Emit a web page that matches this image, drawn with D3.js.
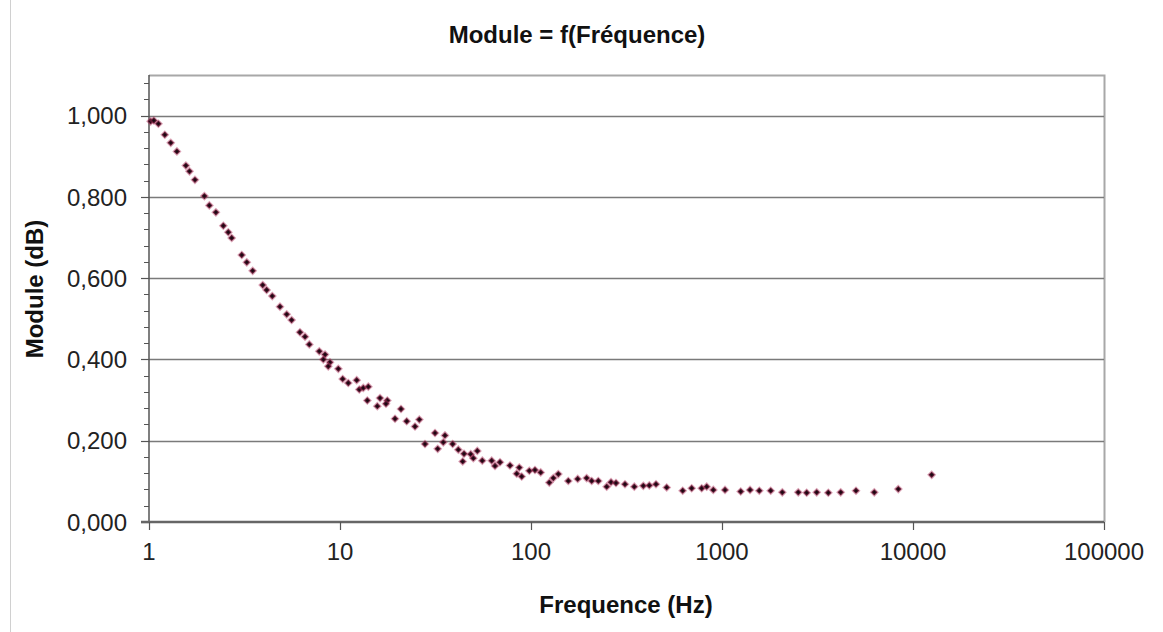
<!DOCTYPE html>
<html>
<head>
<meta charset="utf-8">
<script src="https://cdn.jsdelivr.net/npm/d3@7"></script>
<style>
  html, body { margin: 0; padding: 0; background: #fff; }
  svg { display: block; }
  text { font-family: "Liberation Sans", Arial, sans-serif; }
</style>
</head>
<body>
<svg id="chart" width="1163" height="632"></svg>
<script>
const title = "Module = f(Fréquence)";
const xLabel = "Frequence (Hz)";
const yLabel = "Module (dB)";

const frequence = [1.02, 1.06, 1.12, 1.21, 1.30, 1.40, 1.56, 1.63, 1.74, 1.95,
  2.07, 2.24, 2.45, 2.60, 2.71, 3.06, 3.25, 3.49, 3.94, 4.13,
  4.42, 4.85, 5.26, 5.58, 6.17, 6.56, 6.91, 7.79, 8.35, 8.18,
  8.86, 8.68, 9.80, 10.33, 11.05, 12.23, 12.62, 13.24, 14.07, 13.90,
  16.20, 15.68, 17.69, 17.41, 20.86, 19.41, 22.35, 26.02, 24.70, 31.44,
  27.86, 35.45, 34.74, 32.48, 38.90, 41.64, 44.60, 48.34, 49.89, 43.90,
  52.35, 55.59, 62.26, 64.80, 68.82, 77.63, 86.84, 84.17, 89.40, 98.0,
  104.9, 112.4, 124.7, 130.9, 139.0, 156.8, 175.6, 195.6, 207.9, 225.1,
  249.1, 262.4, 278.6, 310.5, 347.4, 387.3, 416.4, 451.3, 513.4, 622.6,
  694.0, 782.9, 831.8, 900.6, 1037, 1253, 1402, 1568, 1799, 2069,
  2508, 2776, 3132, 3602, 4183, 5030, 6272, 8375, 12527];
const module = [0.986, 0.988, 0.980, 0.953, 0.933, 0.912, 0.877, 0.863, 0.842, 0.802,
  0.779, 0.762, 0.729, 0.713, 0.699, 0.657, 0.639, 0.618, 0.583, 0.571,
  0.556, 0.530, 0.511, 0.497, 0.467, 0.456, 0.437, 0.420, 0.412, 0.400,
  0.393, 0.383, 0.377, 0.352, 0.342, 0.349, 0.326, 0.330, 0.333, 0.299,
  0.305, 0.285, 0.299, 0.291, 0.278, 0.254, 0.248, 0.252, 0.235, 0.219,
  0.192, 0.213, 0.196, 0.180, 0.192, 0.178, 0.168, 0.167, 0.157, 0.149,
  0.175, 0.151, 0.151, 0.138, 0.147, 0.139, 0.134, 0.119, 0.112, 0.126,
  0.128, 0.122, 0.097, 0.108, 0.118, 0.101, 0.106, 0.108, 0.101, 0.101,
  0.087, 0.098, 0.096, 0.093, 0.087, 0.089, 0.090, 0.093, 0.085, 0.077,
  0.083, 0.083, 0.087, 0.079, 0.079, 0.075, 0.079, 0.077, 0.077, 0.073,
  0.073, 0.072, 0.073, 0.072, 0.073, 0.077, 0.073, 0.081, 0.116];

const xTicks = [1, 10, 100, 1000, 10000, 100000];
const xTickLabels = ["1", "10", "100", "1000", "10000", "100000"];
const yTicks = [0, 0.2, 0.4, 0.6, 0.8, 1.0];
const yTickLabels = ["0,000", "0,200", "0,400", "0,600", "0,800", "1,000"];
const yMinorTicks = d3.range(0, 28).map(i => +(i * 0.04).toFixed(2));

(function () {
const svg = d3.select("#chart");
const pLeft = 149, pRight = 1104, pTop = 75, pBottom = 522;

const x = d3.scaleLog().domain([1, 100000]).range([pLeft, pRight]);
const y = d3.scaleLinear().domain([0, 1.1]).range([pBottom, pTop]);

// outer chart border (left light line)
svg.append("line").attr("x1", 10.5).attr("x2", 10.5).attr("y1", 0).attr("y2", 632)
  .attr("stroke", "#d0d0d0").attr("stroke-width", 1);

// plot frame (top & right)
svg.append("path")
  .attr("d", `M${pLeft},${pTop + 0.5}H${pRight + 0.5}V${pBottom}`)
  .attr("fill", "none").attr("stroke", "#a8a8a8").attr("stroke-width", 2);

// gridlines
svg.append("g").selectAll("line").data(yTicks.filter(d => d > 0)).join("line")
  .attr("x1", pLeft).attr("x2", pRight)
  .attr("y1", d => Math.round(y(d)) + 0.5).attr("y2", d => Math.round(y(d)) + 0.5)
  .attr("stroke", "#7a7a7a").attr("stroke-width", 1.5);

// y axis
const yAxis = svg.append("g").attr("transform", `translate(${pLeft},0)`);
yAxis.append("line").attr("x1", 0).attr("x2", 0).attr("y1", pTop).attr("y2", pBottom)
  .attr("stroke", "#555").attr("stroke-width", 1.5);
yAxis.selectAll("line.minor").data(yMinorTicks).join("line").attr("class", "minor")
  .attr("x1", -5).attr("x2", 0)
  .attr("y1", d => Math.round(y(d)) + 0.5).attr("y2", d => Math.round(y(d)) + 0.5)
  .attr("stroke", "#555").attr("stroke-width", 1);
yAxis.selectAll("line.major").data(yTicks).join("line").attr("class", "major")
  .attr("x1", -8).attr("x2", 0)
  .attr("y1", d => Math.round(y(d)) + 0.5).attr("y2", d => Math.round(y(d)) + 0.5)
  .attr("stroke", "#555").attr("stroke-width", 1.2);
yAxis.selectAll("text").data(yTicks).join("text")
  .attr("x", -22).attr("y", d => y(d)).attr("dy", "0.36em")
  .attr("text-anchor", "end").attr("font-size", 24).attr("fill", "#222")
  .text((d, i) => yTickLabels[i]);

// x axis
const xAxis = svg.append("g").attr("transform", `translate(0,${pBottom})`);
xAxis.append("line").attr("x1", pLeft - 8).attr("x2", pRight).attr("y1", 0).attr("y2", 0)
  .attr("stroke", "#666").attr("stroke-width", 2.5);
xAxis.selectAll("line.tick").data(xTicks).join("line").attr("class", "tick")
  .attr("x1", d => Math.round(x(d)) + 0.5).attr("x2", d => Math.round(x(d)) + 0.5)
  .attr("y1", 0).attr("y2", 8)
  .attr("stroke", "#555").attr("stroke-width", 1.2);
xAxis.selectAll("text").data(xTicks).join("text")
  .attr("x", d => x(d)).attr("y", 38)
  .attr("text-anchor", "middle").attr("font-size", 24).attr("fill", "#222")
  .text((d, i) => xTickLabels[i]);

// points
const data = frequence.map((f, i) => ({ f, m: module[i] }));
const sym = d3.symbol().type(d3.symbolSquare).size(20);
svg.append("g").selectAll("path").data(data).join("path")
  .attr("transform", d => `translate(${x(d.f)},${y(d.m)}) rotate(45)`)
  .attr("d", sym)
  .attr("fill", "#1a0812")
  .attr("stroke", "#b0305a").attr("stroke-opacity", 0.45).attr("stroke-width", 2);

// titles
svg.append("text").attr("x", 577).attr("y", 43).attr("text-anchor", "middle")
  .attr("font-size", 24).attr("font-weight", "bold").attr("fill", "#111").text(title);
svg.append("text").attr("x", 626).attr("y", 613).attr("text-anchor", "middle")
  .attr("font-size", 24).attr("font-weight", "bold").attr("fill", "#111").text(xLabel);
svg.append("text").attr("transform", "translate(43,289) rotate(-90)")
  .attr("text-anchor", "middle")
  .attr("font-size", 24).attr("font-weight", "bold").attr("fill", "#111").text(yLabel);
})();
</script>
</body>
</html>
